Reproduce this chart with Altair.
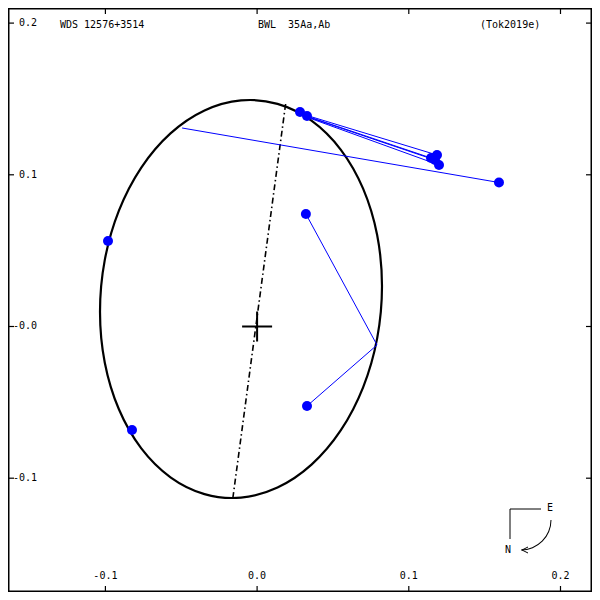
import math
import altair as alt
import pandas as pd

# ---------------- data ----------------
X_DOMAIN = [-0.16421, 0.22077]
Y_DOMAIN = [-0.17502, 0.20995]

# apparent orbit, points read around the ellipse
orbit_x = [0.08233, 0.07917, 0.06988, 0.05511, 0.03586, 0.01345, -0.01061, -0.03467,
           -0.05709, -0.07634, -0.09110, -0.10040, -0.10356, -0.10040, -0.09110, -0.07634,
           -0.05709, -0.03467, -0.01061, 0.01345, 0.03586, 0.05511, 0.06988, 0.07917]
orbit_y = [0.02650, 0.06012, 0.09084, 0.11661, 0.13566, 0.14674, 0.14904, 0.14239,
           0.12729, 0.10475, 0.07634, 0.04390, 0.00976, -0.02386, -0.05458, -0.08036,
           -0.09941, -0.11048, -0.11279, -0.10613, -0.09103, -0.06849, -0.04008, -0.00765]

# observed positions and their predicted positions on the orbit
obs_x = [0.15946, 0.02828, 0.03289, 0.11859, 0.11464, 0.11727, 0.11991, 0.03217, 0.03289, -0.09829, -0.08247]
obs_y = [0.09492, 0.14140, 0.13876, 0.11305, 0.11107, 0.10976, 0.10646, 0.07416, -0.05241, 0.05636, -0.06823]
pred_x = [-0.04945, 0.02828, 0.03289, 0.03000, 0.03150, 0.03300, 0.03450, 0.07904, 0.07904, -0.09829, -0.08247]
pred_y = [0.13085, 0.14140, 0.13876, 0.14000, 0.13910, 0.13830, 0.13740, -0.01220, -0.01220, 0.05636, -0.06823]

# line of nodes
node_x = [0.01879, -0.01589]
node_y = [0.14667, -0.11239]

# primary star
primary_x = [0.0]
primary_y = [0.0]

tick_vals = [-0.1, 0.0, 0.1, 0.2]
x_tick_labels = ["-0.1", "0.0", "0.1", "0.2"]
y_tick_labels = ["-0.1", "-0.0", "0.1", "0.2"]

title_left = "WDS 12576+3514"
title_mid = "BWL\u00a0\u00a035Aa,Ab"
title_right = "(Tok2019e)"

# ---------------- chart ----------------
W = 584
H = 584
FONT = "DejaVu Sans Mono"
FS = 10
BLUE = "#0000ff"


def X(field="x"):
    return alt.X(f"{field}:Q", scale=alt.Scale(domain=X_DOMAIN, nice=False, zero=False), axis=None)


def Y(field="y"):
    return alt.Y(f"{field}:Q", scale=alt.Scale(domain=Y_DOMAIN, nice=False, zero=False), axis=None)


orbit_df = pd.DataFrame({"x": orbit_x, "y": orbit_y, "i": list(range(len(orbit_x)))})
oc_df = pd.DataFrame({"x": obs_x, "y": obs_y, "x2": pred_x, "y2": pred_y})
node_df = pd.DataFrame({"x": node_x, "y": node_y, "i": [0, 1]})
prim_df = pd.DataFrame({"x": primary_x, "y": primary_y})
xt_df = pd.DataFrame({"v": tick_vals, "lab": x_tick_labels})
yt_df = pd.DataFrame({"v": tick_vals, "lab": y_tick_labels})

orbit = alt.Chart(orbit_df).mark_line(
    interpolate="cardinal-closed", color="black", strokeWidth=2.2
).encode(x=X(), y=Y(), order="i:O")

nodes = alt.Chart(node_df).mark_line(
    color="black", strokeWidth=1.6, strokeDash=[6, 3, 1.5, 3]
).encode(x=X(), y=Y(), order="i:O")

oc_lines = alt.Chart(oc_df).mark_rule(color=BLUE, strokeWidth=1).encode(
    x=X(), y=Y(), x2="x2:Q", y2="y2:Q"
)

dots = alt.Chart(oc_df).mark_circle(color=BLUE, size=100, opacity=1).encode(x=X(), y=Y())

cross = alt.Chart(prim_df).mark_point(
    shape="M -1 0 L 1 0 M 0 -1 L 0 1", size=900, filled=False, color="black",
    strokeWidth=2, opacity=1
).encode(x=X(), y=Y())

# ticks
tick_len = 6
bottom_ticks = alt.Chart(xt_df).mark_rule(color="black", strokeWidth=1.2).encode(
    x=X("v"), y=alt.value(H - tick_len), y2=alt.value(H))
top_ticks = alt.Chart(xt_df).mark_rule(color="black", strokeWidth=1.2).encode(
    x=X("v"), y=alt.value(0), y2=alt.value(tick_len))
left_ticks = alt.Chart(yt_df).mark_rule(color="black", strokeWidth=1.2).encode(
    y=Y("v"), x=alt.value(0), x2=alt.value(tick_len))
right_ticks = alt.Chart(yt_df).mark_rule(color="black", strokeWidth=1.2).encode(
    y=Y("v"), x=alt.value(W - tick_len), x2=alt.value(W))

bottom_labels = alt.Chart(xt_df).mark_text(
    font=FONT, fontSize=FS, color="black", align="center", baseline="middle"
).encode(x=X("v"), y=alt.value(H - 16), text="lab:N")
left_labels = alt.Chart(yt_df).mark_text(
    font=FONT, fontSize=FS, color="black", align="right", baseline="middle"
).encode(y=Y("v"), x=alt.value(29), text="lab:N")


def title_text(txt, px):
    return alt.Chart(pd.DataFrame({"t": [txt]})).mark_text(
        font=FONT, fontSize=FS, color="black", align="left", baseline="middle"
    ).encode(x=alt.value(px), y=alt.value(17), text="t:N")


t1 = title_text(title_left, 52)
t2 = title_text(title_mid, 250)
t3 = title_text(title_right, 472)

# compass
comp_h = alt.Chart(pd.DataFrame({"a": [0]})).mark_rule(color="black", strokeWidth=1).encode(
    x=alt.value(502), x2=alt.value(533), y=alt.value(501))
comp_v = alt.Chart(pd.DataFrame({"a": [0]})).mark_rule(color="black", strokeWidth=1).encode(
    x=alt.value(502), y=alt.value(501), y2=alt.value(531))
comp_e = alt.Chart(pd.DataFrame({"t": ["E"]})).mark_text(
    font=FONT, fontSize=FS, color="black", align="center", baseline="middle"
).encode(x=alt.value(542), y=alt.value(500), text="t:N")
comp_n = alt.Chart(pd.DataFrame({"t": ["N"]})).mark_text(
    font=FONT, fontSize=FS, color="black", align="center", baseline="middle"
).encode(x=alt.value(500), y=alt.value(542), text="t:N")
comp_arc = alt.Chart(pd.DataFrame({"a": [0]})).mark_arc(
    radius=30.5, radius2=29.5, theta=math.pi / 2, theta2=math.pi, color="black"
).encode(x=alt.value(513), y=alt.value(512))
comp_head = alt.Chart(pd.DataFrame({"a": [0]})).mark_point(
    shape="M 1 -1 L -1 0 L 1 1", size=36, filled=False, color="black", strokeWidth=1, opacity=1
).encode(x=alt.value(517), y=alt.value(542))

chart = alt.layer(
    orbit, nodes, oc_lines, dots, cross,
    bottom_ticks, top_ticks, left_ticks, right_ticks,
    bottom_labels, left_labels, t1, t2, t3,
    comp_h, comp_v, comp_e, comp_n, comp_arc, comp_head,
).properties(
    width=W, height=H, padding=0,
    autosize=alt.AutoSizeParams(type="none"),
).configure(background="white").configure_view(stroke="black", strokeWidth=3)

chart.save("out.html", embed_options={"renderer": "svg", "actions": False})
